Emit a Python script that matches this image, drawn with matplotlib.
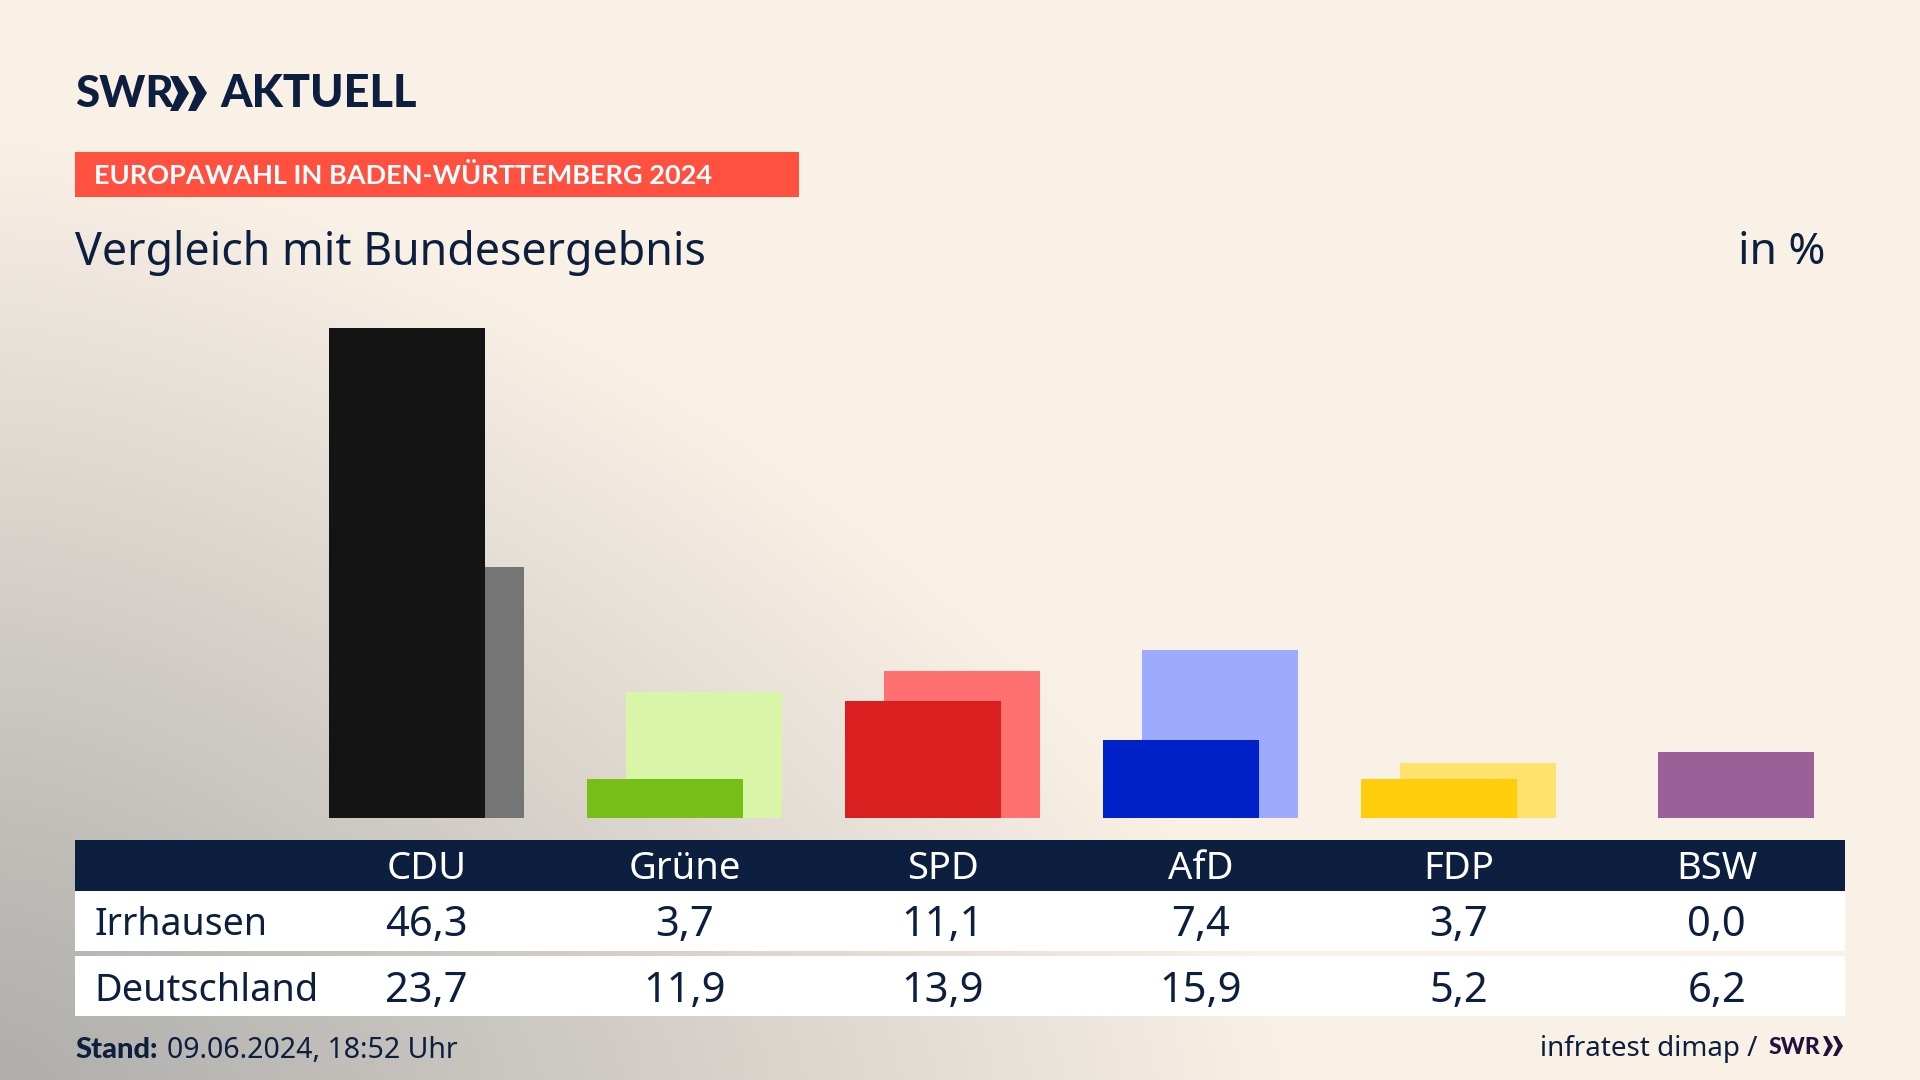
import matplotlib
matplotlib.use('Agg')
import matplotlib.pyplot as plt
from matplotlib.patches import Rectangle, Polygon
import numpy as np

parties = ['CDU', 'Grüne', 'SPD', 'AfD', 'FDP', 'BSW']
irrhausen = [46.3, 3.7, 11.1, 7.4, 3.7, 0.0]
deutschland = [23.7, 11.9, 13.9, 15.9, 5.2, 6.2]
colors_front = ['#141414', '#78BE18', '#D91F1F', '#0022C8', '#FFCD0B', '#9C6098']
colors_back = ['#757575', '#D8F5A8', '#FF7070', '#9DABFF', '#FFE26E', '#9C6098']
row_names = ['Irrhausen', 'Deutschland']

NAVY = '#0C1F3F'
W, H = 1920, 1080
plt.rcParams['font.family'] = ['Noto Sans', 'DejaVu Sans']
BOLD = ['Lato', 'DejaVu Sans']

fig = plt.figure(figsize=(19.2, 10.8), dpi=100)

# background + anything in pixel coordinates
bg = fig.add_axes([0, 0, 1, 1])
bg.set_xlim(0, W)
bg.set_ylim(H, 0)
bg.axis('off')

yy, xx = np.mgrid[0:H:270j, 0:W:480j]
p = 1.5
dist = ((xx / 1300.0) ** p + ((H - yy) / 950.0) ** p) ** (1 / p)
t = np.clip(dist, 0, 1) ** 1.1
cream = np.array([250, 241, 230]) / 255
grey = np.array([176, 175, 172]) / 255
grad = grey + (cream - grey) * t[..., None]
bg.imshow(grad, extent=(0, W, H, 0), aspect='auto', zorder=0)

# logo
bg.text(75, 94, 'SWR', fontsize=31.5, family=BOLD, fontweight='black', color=NAVY, va='center', ha='left')
for x0 in (170, 188):
    bg.add_patch(Polygon([(x0, 76), (x0 + 8, 76), (x0 + 19, 93), (x0 + 8, 111), (x0, 111), (x0 + 8, 93)],
                         closed=True, color=NAVY, lw=0))
bg.text(220, 94, 'AKTUELL', fontsize=32.5, family=BOLD, fontweight='black', color=NAVY, va='center', ha='left')

# red strip
bg.add_patch(Rectangle((75, 152), 724, 45, color='#FF5040', lw=0))
bg.text(94, 176, 'EUROPAWAHL IN BADEN-WÜRTTEMBERG 2024', fontsize=19.5, family=BOLD, fontweight='bold',
        color='white', va='center', ha='left')

bg.text(75, 253, 'Vergleich mit Bundesergebnis', fontsize=32.2, color=NAVY, va='center', ha='left')
bg.text(1825, 253, 'in %', fontsize=32, color=NAVY, va='center', ha='right')

# bars
ax = fig.add_axes([0, (H - 818) / H, 1, 490 / H])
ax.set_xlim(-426.5 / 258.0, (W - 426.5) / 258.0)
ax.set_ylim(0, 46.3)
ax.axis('off')
ax.patch.set_alpha(0)
x = np.arange(len(parties))
ax.bar(x + 0.0756, deutschland, width=0.602, color=colors_back, lw=0, zorder=2)
ax.bar(x - 0.0756, irrhausen, width=0.602, color=colors_front, lw=0, zorder=3)

# table
bg.add_patch(Rectangle((75, 840), 1770, 51, color=NAVY, lw=0))
bg.add_patch(Rectangle((75, 891), 1770, 60, color='white', lw=0))
bg.add_patch(Rectangle((75, 956), 1770, 60, color='white', lw=0))

col_x = [426.7 + 258 * i for i in range(len(parties))]
for cx, name, a, b in zip(col_x, parties, irrhausen, deutschland):
    bg.text(cx, 869, name, fontsize=27.5, color='white', ha='center', va='center')
    bg.text(cx, 925, f'{a:.1f}'.replace('.', ','), fontsize=30, color=NAVY, ha='center', va='center')
    bg.text(cx, 991, f'{b:.1f}'.replace('.', ','), fontsize=30, color=NAVY, ha='center', va='center')
bg.text(94, 925, row_names[0], fontsize=27, color=NAVY, ha='left', va='center')
bg.text(94, 991, row_names[1], fontsize=27.3, color=NAVY, ha='left', va='center')

# footer
bg.text(75, 1050, 'Stand:', fontsize=21, family=BOLD, fontweight='black', color=NAVY, ha='left', va='center')
bg.text(167, 1050, '09.06.2024, 18:52 Uhr', fontsize=20.5, color=NAVY, ha='left', va='center')
bg.text(1757, 1049, 'infratest dimap /', fontsize=20, color=NAVY, ha='right', va='center')
bg.text(1769, 1047, 'SWR', fontsize=16.5, family=BOLD, fontweight='black', color='#22103F', ha='left', va='center')
for x0 in (1823, 1833):
    bg.add_patch(Polygon([(x0, 1036), (x0 + 4, 1036), (x0 + 10, 1046), (x0 + 4, 1056), (x0, 1056), (x0 + 5, 1046)],
                         closed=True, color='#22103F', lw=0))

fig.savefig('out.png', dpi=100)
